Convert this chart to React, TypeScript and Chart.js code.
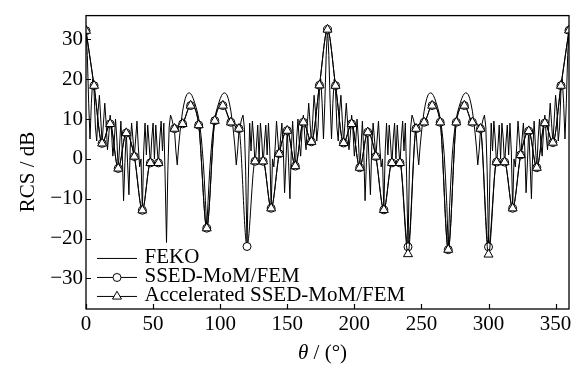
import React, { useEffect, useRef } from "react";
import { Chart, registerables } from "chart.js";

Chart.register(...registerables);

// ---------- data ----------
const xTicks = [0, 50, 100, 150, 200, 250, 300, 350];
const yTicks = [-30, -20, -10, 0, 10, 20, 30];
const seriesNames = ["FEKO", "SSED-MoM/FEM", "Accelerated SSED-MoM/FEM"];

// FEKO, 1° steps from 0° to 360°
const fekoStepDeg = 1;
const feko = [
  32.5, 26, 14, 5, 14, 20, 17, 8, 4.5, 12,
  16, 10, 4, 9, 14, 9, 2.3, 6, 11, 7,
  0.7, 4, 10, 5, -2.5, 3, 9.5, 2, -10.5, -1,
  7, -1, -9, 3, 9, 5, 0.5, 5, 9.5, 3,
  -2, 0, -13, 2, 9, 1, 8.5, 4, -1.5, 5,
  9, 0, 8.5, 3, -1.5, 5, 9.5, 2, 9, -5,
  -21, -3, 8, 11, 10, 8.5, 7, 2, -1.5, 3,
  6.5, 9.5, 12, 13.8, 15.2, 16.1, 16.5, 16.6, 16.4, 15.9,
  15.1, 14.1, 13, 11.8, 10.2, 8, 5, 1, -4, -10.5,
  -17.5, -10.5, -4, 1, 5, 8, 10.2, 11.8, 13, 14.1,
  15.1, 15.9, 16.4, 16.6, 16.5, 16.1, 15.2, 13.8, 12, 9.5,
  6.5, 3, -1.5, 2, 7, 8.5, 10, 11, 8, -3,
  -22, -5, 9, 2, 9.5, 5, -1.5, 3, 8.5, 0,
  9, 5, -1.5, 4, 8.5, 1, 9, 2, -12.5, 0,
  -2, 3, 9.5, 5, 0.5, 5, 9, 3, -8.5, -1,
  7.5, -1, -10, 2, 9.5, 3, -2.5, 5, 10, 4,
  0.7, 7, 11, 6, 2.3, 9, 14, 9, 4, 10,
  16, 12, 4.5, 8, 17, 20, 14, 5, 14, 26,
  33, 26, 14, 5, 14, 20, 17, 8, 4.5, 12,
  16, 10, 4, 9, 14, 9, 2.3, 6, 11, 7,
  0.7, 4, 10, 5, -2.5, 3, 9.5, 2, -10.5, -1,
  7.2, -1, -9, 3, 9, 5, 0.5, 5, 9.5, 3,
  -2, 0, -13, 2, 9, 1, 8.5, 4, -1.5, 5,
  9, 0, 8.5, 3, -1.5, 5, 9.5, 2, 9, -5,
  -22.5, -3, 8, 11, 10, 8.5, 7, 2, -1.5, 3,
  6.5, 9.5, 12, 13.8, 15.2, 16.1, 16.5, 16.6, 16.4, 15.9,
  15.1, 14.1, 13, 11.8, 10.2, 8, 5, 1, -5, -12,
  -23, -12, -5, 1, 5, 8, 10.2, 11.8, 13, 14.1,
  15.1, 15.9, 16.4, 16.6, 16.5, 16.1, 15.2, 13.8, 12, 9.5,
  6.5, 3, -1.5, 2, 7, 8.5, 10, 11, 8, -3,
  -22, -5, 9, 2, 9.5, 5, -1.5, 3, 8.5, 0,
  9, 5, -1.5, 4, 8.5, 1, 9, 2, -12.5, 0,
  -2, 3, 9.5, 5, 0.5, 5, 9, 3, -8.5, -1,
  7.5, -1, -10, 2, 9.5, 3, -2.5, 5, 10, 4,
  0.7, 7, 11, 6, 2.3, 9, 14, 9, 4, 10,
  16, 12, 4.5, 8, 17, 20, 14, 5, 14, 26,
  32.5,
];

// method results, 6° steps from 0° to 360°
const methodStepDeg = 6;
const ssed = [
  32.2, 18.4, 3.9, 8.8, -2.4, 6.5, 0.6, -12.9, -1, -1,
  null, 7.6, 8.8, 13.4, 8.5, -17.4, 9.6, 13.4, 9.2, 7.6,
  -22, -0.6, -0.6, -12.4, 1.3, 7.1, -1.8, 9.2, 4.3, 18.5,
  32.5, 18.4, 4.0, 8.8, -2.2, 6.7, 0.6, -12.8, -1, -1,
  -22.1, 7.6, 9.2, 13.4, 9.2, -22.8, 9.2, 13.4, 9.2, 7.6,
  -22.1, -0.8, -0.8, -12.4, 1.0, 7.0, -2.2, 9.0, 4.1, 18.4,
  32.3,
];
const accelerated = [
  32.2, 18.4, 3.9, 8.8, -2.4, 6.5, 0.6, -12.9, -1, -1,
  null, 7.6, 8.8, 13.4, 8.5, -17.4, 9.6, 13.4, 9.2, 7.6,
  null, -0.6, -0.6, -12.4, 1.3, 7.1, -1.8, 9.2, 4.3, 18.5,
  32.5, 18.4, 4.0, 8.8, -2.2, 6.7, 0.6, -12.8, -1, -1,
  -23.9, 7.6, 9.2, 13.4, 9.2, -22.8, 9.2, 13.4, 9.2, 7.6,
  -24.0, -0.8, -0.8, -12.4, 1.0, 7.0, -2.2, 9.0, 4.1, 18.4,
  32.3,
];

// ---------- helpers ----------
const FONT = '"Liberation Serif", "Times New Roman", serif';

function legendIcon(kind: "line" | "circle" | "triangle"): HTMLCanvasElement {
  const c = document.createElement("canvas");
  c.width = 60;
  c.height = 14;
  const g = c.getContext("2d") as CanvasRenderingContext2D;
  g.strokeStyle = "#000";
  g.lineWidth = 1;
  g.beginPath();
  g.moveTo(18, 7.5);
  g.lineTo(58, 7.5);
  g.stroke();
  g.fillStyle = "#fff";
  if (kind === "circle") {
    g.beginPath();
    g.arc(38, 7.5, 4, 0, Math.PI * 2);
    g.fill();
    g.stroke();
  } else if (kind === "triangle") {
    const r = 5.2;
    g.beginPath();
    g.moveTo(38, 7.5 - r);
    g.lineTo(38 - r * 0.866, 7.5 + r / 2);
    g.lineTo(38 + r * 0.866, 7.5 + r / 2);
    g.closePath();
    g.fill();
    g.stroke();
  }
  return c;
}

// moves the in-plot legend down to the reference position
const legendShiftPlugin = {
  id: "legendShift",
  afterLayout(chart: any) {
    const lg = chart.legend;
    if (lg) {
      lg.top += 11;
      lg.bottom += 11;
    }
  },
};

const framePlugin = {
  id: "frame",
  afterDraw(chart: any) {
    const { ctx, chartArea: a, scales } = chart;
    ctx.save();
    ctx.strokeStyle = "#000";
    ctx.lineWidth = 1.3;
    ctx.strokeRect(a.left, a.top, a.right - a.left, a.bottom - a.top);
    ctx.lineWidth = 1.2;
    ctx.beginPath();
    for (const v of xTicks) {
      const px = Math.round(scales.x.getPixelForValue(v)) + 0.5;
      ctx.moveTo(px, a.bottom);
      ctx.lineTo(px, a.bottom - 5);
    }
    for (const v of yTicks) {
      const py = Math.round(scales.y.getPixelForValue(v)) + 0.5;
      ctx.moveTo(a.left, py);
      ctx.lineTo(a.left + 5, py);
    }
    ctx.stroke();

    ctx.fillStyle = "#000";
    ctx.textBaseline = "middle";
    // y-axis title
    ctx.save();
    ctx.font = `21px ${FONT}`;
    ctx.textAlign = "center";
    ctx.translate(28, 172);
    ctx.rotate(-Math.PI / 2);
    ctx.fillText("RCS / dB", 0, 0);
    ctx.restore();
    // x-axis title: italic θ + normal rest
    const part1 = "θ";
    const part2 = " / (°)";
    ctx.font = `italic 21px ${FONT}`;
    const w1 = ctx.measureText(part1).width;
    ctx.font = `21px ${FONT}`;
    const w2 = ctx.measureText(part2).width;
    const cx = (a.left + a.right) / 2 - 5;
    const x0 = cx - (w1 + w2) / 2;
    ctx.textAlign = "left";
    ctx.font = `italic 21px ${FONT}`;
    ctx.fillText(part1, x0, 353);
    ctx.font = `21px ${FONT}`;
    ctx.fillText(part2, x0 + w1, 353);
    ctx.restore();
  },
};

export default function App() {
  const ref = useRef<HTMLCanvasElement | null>(null);

  useEffect(() => {
    const canvas = ref.current;
    if (!canvas) return;

    const fekoPts = feko.map((v, i) => ({ x: i * fekoStepDeg, y: v }));
    const ssedPts = ssed.map((v, i) => ({ x: i * methodStepDeg, y: v }));
    const accPts = accelerated.map((v, i) => ({ x: i * methodStepDeg, y: v }));

    const icons = [legendIcon("line"), legendIcon("circle"), legendIcon("triangle")];

    const chart = new Chart(canvas, {
      type: "line",
      data: {
        datasets: [
          {
            label: seriesNames[0],
            data: fekoPts as any,
            borderColor: "#000",
            borderWidth: 1,
            pointRadius: 0,
            tension: 0,
            order: 2,
          },
          {
            label: seriesNames[1],
            data: ssedPts as any,
            borderColor: "#000",
            borderWidth: 1,
            cubicInterpolationMode: "monotone",
            pointStyle: "circle",
            pointRadius: 4,
            pointBackgroundColor: "#fff",
            pointBorderColor: "#000",
            pointBorderWidth: 1,
            spanGaps: false,
            order: 1,
          },
          {
            label: seriesNames[2],
            data: accPts as any,
            borderColor: "#000",
            borderWidth: 1,
            cubicInterpolationMode: "monotone",
            pointStyle: "triangle",
            pointRadius: 5.2,
            pointBackgroundColor: "#fff",
            pointBorderColor: "#000",
            pointBorderWidth: 1,
            spanGaps: false,
            order: 0,
          },
        ],
      },
      options: {
        responsive: false,
        animation: false,
        devicePixelRatio: 1,
        layout: { padding: { left: 0, top: 7, right: 19, bottom: 0 } },
        plugins: {
          tooltip: { enabled: false },
          legend: {
            display: true,
            position: "chartArea" as any,
            align: "end",
            labels: {
              usePointStyle: true,
              pointStyleWidth: 50,
              padding: -2,
              color: "#000",
              font: { family: FONT, size: 21 },
              generateLabels: () =>
                seriesNames.map((name, i) => ({
                  text: name,
                  pointStyle: icons[i] as any,
                  fillStyle: "#fff",
                  strokeStyle: "#000",
                  lineWidth: 1,
                  hidden: false,
                  datasetIndex: i,
                  fontColor: "#000",
                })) as any,
            },
          },
        },
        scales: {
          x: {
            type: "linear",
            min: 0,
            max: 360,
            afterBuildTicks: (s: any) => {
              s.ticks = xTicks.map((v) => ({ value: v }));
            },
            afterFit: (s: any) => {
              s.height = 56;
            },
            grid: { display: false, drawTicks: false },
            border: { display: false },
            ticks: {
              color: "#000",
              padding: 3,
              maxRotation: 0,
              autoSkip: false,
              font: { family: FONT, size: 21, lineHeight: 1.2 },
              callback: (v: any) => String(v).replace("-", "\u2212"),
            },
          },
          y: {
            type: "linear",
            min: -37.7,
            max: 36,
            afterBuildTicks: (s: any) => {
              s.ticks = yTicks.map((v) => ({ value: v }));
            },
            afterFit: (s: any) => {
              s.width = 86;
            },
            grid: { display: false, drawTicks: false },
            border: { display: false },
            ticks: {
              color: "#000",
              padding: 3,
              autoSkip: false,
              font: { family: FONT, size: 21 },
              callback: (v: any) => String(v).replace("-", "\u2212"),
            },
          },
        },
      },
      plugins: [legendShiftPlugin, framePlugin],
    });

    return () => chart.destroy();
  }, []);

  return (
    <div style={{ position: "absolute", left: 0, top: 0, width: 588, height: 365, background: "#fff" }}>
      <canvas ref={ref} width={588} height={365} style={{ display: "block" }} />
    </div>
  );
}
